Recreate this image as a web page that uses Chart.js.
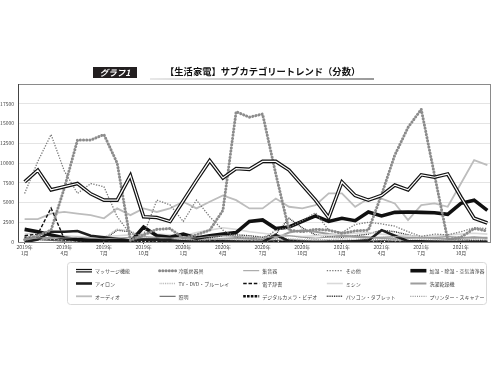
<!DOCTYPE html>
<html>
<head>
<meta charset="utf-8">
<script src="https://cdn.jsdelivr.net/npm/chart.js@4/dist/chart.umd.min.js"></script>
<style>
  html, body { margin: 0; padding: 0; background: #fff; }
  #wrap { position: relative; width: 500px; height: 375px; font-family: "Noto Sans CJK JP", "Noto Sans", sans-serif; }
  #chart { position: absolute; left: 0; top: 0; }
  .tag { position: absolute; left: 93px; top: 66.5px; width: 44px; height: 11px; background: #231f20; color: #fff;
         font-size: 8.5px; font-weight: 700; line-height: 11px; text-align: center; font-style: italic; }
  .title { position: absolute; left: 165px; top: 65px; font-size: 9.3px; font-weight: 700; color: #111; line-height: 13px; white-space: nowrap; }
  .uline { position: absolute; left: 150px; top: 78px; width: 224px; height: 2px; background: linear-gradient(to right, #e8e8e8, #9a9a9a); }
</style>
</head>
<body>
<div id="wrap">
  <canvas id="chart" width="500" height="375"></canvas>
  <div class="tag">グラフ1</div>
  <div class="uline"></div>
  <div class="title">【生活家電】サブカテゴリートレンド（分数）</div>
</div>
<script>
const months = [
  '2019年1月', '2019年2月', '2019年3月', '2019年4月', '2019年5月', '2019年6月',
  '2019年7月', '2019年8月', '2019年9月', '2019年10月', '2019年11月', '2019年12月',
  '2020年1月', '2020年2月', '2020年3月', '2020年4月', '2020年5月', '2020年6月',
  '2020年7月', '2020年8月', '2020年9月', '2020年10月', '2020年11月', '2020年12月',
  '2021年1月', '2021年2月', '2021年3月', '2021年4月', '2021年5月', '2021年6月',
  '2021年7月', '2021年8月', '2021年9月', '2021年10月', '2021年11月', '2021年12月'
];
const tickMonths = ['2019年1月', '2019年4月', '2019年7月', '2019年10月', '2020年1月', '2020年4月',
  '2020年7月', '2020年10月', '2021年1月', '2021年4月', '2021年7月', '2021年10月'];

const massage = [7600, 9100, 6600, 7000, 7400, 6100, 5300, 5300, 8400, 3200, 3100, 2600,
  5200, 7800, 10300, 8100, 9300, 9200, 10200, 10200, 9100, 7200, 5300, 3100,
  7600, 5900, 5300, 5900, 7200, 6600, 8500, 8200, 8600, 5700, 3000, 2400];
const heating = [300, 800, 1500, 6800, 12900, 12900, 13600, 10000, 200, 900, 1600, 1700,
  500, 900, 1500, 4000, 16500, 15800, 16200, 8600, 1500, 1300, 1600, 1500,
  1100, 1400, 1500, 6000, 11000, 14500, 16800, 8500, 300, 600, 1700, 1400];
const hearing = [400, 500, 600, 500, 600, 500, 400, 500, 600, 700, 600, 500,
  600, 500, 700, 800, 700, 600, 500, 700, 800, 600, 500, 600,
  700, 600, 500, 600, 700, 600, 500, 600, 700, 600, 500, 600];
const others = [6150, 10200, 13600, 9000, 6150, 7400, 7000, 3200, 1000, 900, 5300, 4700,
  2600, 5300, 3200, 1500, 600, 500, 300, 1500, 1800, 2700, 3700, 1500,
  1200, 2200, 2500, 2300, 2000, 1300, 700, 1000, 900, 1300, 1800, 1700];
const humidifier = [1600, 1300, 900, 500, 300, 200, 300, 200, 0, 1900, 800, 600,
  1000, 500, 800, 1000, 1200, 2600, 2800, 1700, 1900, 2600, 3300, 2600,
  3000, 2700, 3800, 3300, 3750, 3800, 3750, 3700, 3500, 4900, 5300, 4000];
const iron = [0, 300, 1300, 1300, 1400, 800, 600, 400, 200, 300, 300, 200,
  100, 0, 0, 100, 0, 0, 0, 900, 100, 0, 0, 0,
  0, 100, 200, 1500, 800, 100, 100, 0, 0, 0, 0, 0];
const tvdvd = [500, 700, 600, 400, 300, 300, 500, 1600, 1400, 600, 400, 400,
  300, 200, 300, 400, 300, 200, 300, 500, 400, 300, 200, 300,
  400, 300, 500, 600, 500, 400, 300, 300, 200, 300, 400, 300];
const dictionary = [800, 1000, 4300, 400, 200, 100, 100, 100, 100, 200, 100, 100,
  100, 100, 200, 100, 100, 0, 0, 100, 0, 0, 0, 100,
  0, 0, 0, 0, 0, 0, 0, 0, 0, 0, 0, 0];
const sewing = [1000, 1200, 900, 800, 700, 600, 700, 800, 900, 1100, 1000, 900,
  800, 1200, 1500, 1800, 1600, 1300, 1100, 900, 800, 700, 800, 900,
  1000, 1100, 1200, 1000, 900, 800, 700, 800, 900, 1000, 1100, 1000];
const washer = [300, 400, 500, 400, 300, 400, 500, 400, 300, 400, 500, 600,
  500, 400, 300, 400, 500, 400, 300, 500, 1200, 1500, 1300, 1000,
  800, 700, 600, 500, 400, 500, 600, 500, 400, 500, 600, 500];
const audio = [2900, 2900, 3600, 3800, 3600, 3400, 3000, 4250, 3400, 4250, 3800, 4250,
  5100, 4250, 5100, 5900, 5300, 4250, 4250, 5500, 4460, 4250, 4670, 6150,
  6150, 4460, 5500, 5500, 4880, 2780, 4670, 4880, 4460, 7410, 10360, 9730];
const lighting = [200, 300, 200, 100, 200, 300, 200, 100, 200, 300, 200, 100,
  200, 300, 200, 100, 200, 100, 100, 200, 300, 200, 100, 100,
  200, 100, 100, 200, 100, 100, 100, 200, 100, 100, 100, 100];
const camera = [500, 600, 400, 300, 200, 100, 200, 300, 200, 100, 200, 100,
  100, 100, 0, 0, 100, 100, 0, 0, 100, 100, 0, 0,
  0, 100, 0, 0, 0, 0, 0, 0, 0, 0, 0, 0];
const pc = [600, 500, 400, 300, 200, 200, 300, 1500, 1300, 400, 300, 200,
  200, 300, 500, 800, 900, 800, 600, 1000, 3000, 1800, 900, 700,
  600, 800, 1000, 1500, 1300, 900, 600, 500, 400, 300, 200, 200];
const printer = [200, 300, 200, 100, 100, 200, 100, 200, 300, 200, 100, 100,
  200, 100, 100, 300, 500, 400, 200, 300, 800, 600, 300, 200,
  100, 200, 300, 400, 300, 200, 100, 200, 300, 500, 600, 400];

const seriesNames = ['マッサージ機能', '冷暖房器具', '集音器', 'その他', '加湿・除湿・空気清浄器',
  'アイロン', 'TV・DVD・ブルーレイ', '電子辞書', 'ミシン', '洗濯乾燥機',
  'オーディオ', '照明', 'デジタルカメラ・ビデオ', 'パソコン・タブレット', 'プリンター・スキャナー'];
const seriesValues = [massage, heating, hearing, others, humidifier, iron, tvdvd, dictionary,
  sewing, washer, audio, lighting, camera, pc, printer];

// line look per series (same order as names)
const styles = [
  { color: '#111', width: 3.6, double: true },
  { color: '#8c8c8c', width: 3, dash: [0.1, 3.1], cap: 'round' },
  { color: '#9a9a9a', width: 1 },
  { color: '#7a7a7a', width: 1.3, dash: [1.3, 1.4] },
  { color: '#111', width: 3.6 },
  { color: '#1e1e1e', width: 2.6 },
  { color: '#b4b4b4', width: 1.6, dash: [0.9, 0.9] },
  { color: '#111', width: 1.4, dash: [3.5, 1.8] },
  { color: '#d9d9d9', width: 1.6 },
  { color: '#9d9d9d', width: 2 },
  { color: '#bdbdbd', width: 1.8 },
  { color: '#555', width: 1 },
  { color: '#111', width: 2.4, dash: [2.6, 1.2] },
  { color: '#222', width: 1.4, dash: [0.9, 0.9] },
  { color: '#8a8a8a', width: 1.2, dash: [0.9, 1.3] }
];

const points = vals => vals.map((v, i) => ({ x: i, y: v }));

const datasets = [];
seriesValues.forEach((vals, k) => {
  const st = styles[k];
  if (st.double) {
    datasets.push({ label: seriesNames[k] + '-inner', data: points(vals), borderColor: '#fff', borderWidth: 1.2, order: 0 });
  }
  datasets.push({
    label: seriesNames[k],
    data: points(vals),
    borderColor: st.color,
    borderWidth: st.width,
    borderDash: st.dash || [],
    borderCapStyle: st.cap || 'butt',
    order: st.double ? 1 : 2 + k
  });
});

const frame = {
  id: 'frame',
  afterDatasetsDraw(chart) {
    const { ctx, chartArea: a } = chart;
    ctx.save();
    ctx.strokeStyle = '#8a8a8a';
    ctx.lineWidth = 1;
    ctx.strokeRect(Math.round(a.left) + 0.5, Math.round(a.top) + 0.5, Math.round(a.right - a.left), Math.round(a.bottom - a.top));
    ctx.strokeStyle = '#444';
    ctx.beginPath();
    ctx.moveTo(Math.round(a.left) + 0.5, a.top);
    ctx.lineTo(Math.round(a.left) + 0.5, a.bottom);
    ctx.stroke();
    ctx.restore();
  }
};

const legendBox = {
  id: 'legendBox',
  afterDraw(chart) {
    const ctx = chart.ctx;
    ctx.save();
    ctx.strokeStyle = '#d8d8d8';
    ctx.lineWidth = 1;
    ctx.beginPath();
    ctx.roundRect(67.5, 262.5, 419, 42, 3);
    ctx.stroke();
    ctx.font = '5px "Noto Sans CJK JP"';
    ctx.textBaseline = 'middle';
    seriesNames.forEach((name, k) => {
      const st = styles[k];
      const x = 76 + (k % 5) * 83.6;
      const y = 270.7 + Math.floor(k / 5) * 12.8;
      ctx.beginPath();
      ctx.setLineDash(st.dash || []);
      ctx.lineCap = st.cap || 'butt';
      ctx.strokeStyle = st.color;
      ctx.lineWidth = st.width;
      ctx.moveTo(x, y);
      ctx.lineTo(x + 16, y);
      ctx.stroke();
      if (st.double) {
        ctx.beginPath();
        ctx.strokeStyle = '#fff';
        ctx.lineWidth = 1.2;
        ctx.moveTo(x, y);
        ctx.lineTo(x + 16, y);
        ctx.stroke();
      }
      ctx.setLineDash([]);
      ctx.fillStyle = '#444';
      ctx.fillText(name, x + 19, y + 0.3);
    });
    ctx.restore();
  }
};

const tickFont = { family: '"Noto Sans CJK JP"', size: 5 };

new Chart(document.getElementById('chart'), {
  type: 'line',
  data: { datasets },
  options: {
    responsive: false,
    animation: false,
    elements: { point: { radius: 0 }, line: { tension: 0, borderJoinStyle: 'miter' } },
    layout: { padding: { top: 84, right: 10, bottom: 115, left: 0 } },
    plugins: { legend: { display: false }, tooltip: { enabled: false } },
    scales: {
      x: {
        type: 'linear',
        min: -0.5,
        max: 35.2,
        afterBuildTicks: s => { s.ticks = tickMonths.map(m => ({ value: months.indexOf(m) })); },
        afterFit: s => { s.height = 18; },
        ticks: {
          autoSkip: false,
          maxRotation: 0,
          padding: 0.5,
          color: '#444',
          font: tickFont,
          callback: v => { const m = months[v]; return [m.slice(0, 5), m.slice(5)]; }
        },
        grid: { drawOnChartArea: false, tickLength: 2, color: '#444' },
        border: { color: '#444' }
      },
      y: {
        min: 0,
        max: 20000,
        afterFit: s => { s.width = 18; },
        ticks: { stepSize: 2500, padding: 4, color: '#444', font: tickFont, callback: v => (v === 20000 ? '' : v) },
        grid: { color: '#e4e4e4', drawTicks: false },
        border: { color: '#444' }
      }
    }
  },
  plugins: [frame, legendBox]
});
</script>
</body>
</html>
